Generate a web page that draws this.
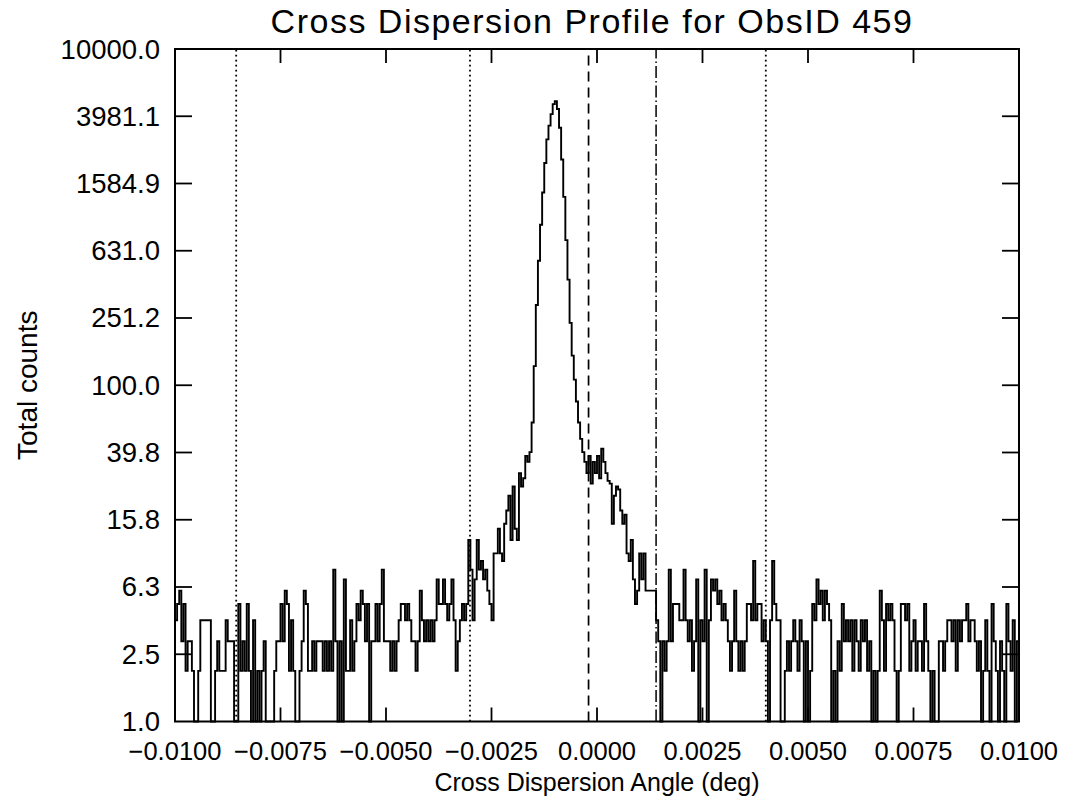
<!DOCTYPE html>
<html>
<head>
<meta charset="utf-8">
<script src="https://cdn.jsdelivr.net/npm/d3@7"></script>
<style>
  html, body { margin: 0; padding: 0; background: #fff; }
  svg text { font-family: "Liberation Sans", Arial, sans-serif; fill: #000; }
</style>
</head>
<body>
<div id="chart"></div>
<script>
// histogram bins: 400 bins of 0.00005 deg from -0.0100 to +0.0100
const binStart = -0.01;
const binWidth = 0.00005;

// counts (left background, core, right background)
const countsLeft = [
  4,5,6,3,5,2,3,3,2,1, 1,2,4,4,4,4,4,1,1,2, 3,2,2,2,4,3,3,3,1,1, 5,2,3,2,5,2,1,4,1,2,
  1,2,3,1,1,1,1,2,3,3, 5,3,6,5,2,4,2,1,1,2, 3,6,5,2,2,3,2,3,3,3, 2,3,2,3,2,8,3,1,3,1,
  7,2,2,4,2,3,5,4,6,5, 3,5,1,3,3,5,3,5,8,3, 3,3,2,3,2,3,4,5,5,4, 5,4,3,3,2,3,6,4,3,4,
  3,4,3,4,7,5,5,7,5,4, 5,7,4,2,3,4,5,4,5,12
];
const countsCore = [
  8,4,7,12,8,9,7,8,6,5, 4,10,10,14,10,9,15,18,22,12, 25,14,12,30,25,28,38,35,40,60,
  130,300,550,900,1400,2100,2900,3500,4100,4700, 4900,4400,3400,2200,1320,730,425,235,150,108,
  80,60,48,40,35,30,38,26,35,30, 38,28,42,35,30,27,26,15,22,25, 24,18,15,17,10,9,12,7,5,6,
  10,7,10,6,6,6,6,6,4,3, 1,3,2,3,8,3,5,5,5,4
];
const countsRight = [
  4,8,4,3,4,2,3,7,1,4, 3,8,1,4,7,6,7,5,6,4, 5,4,3,2,3,6,3,2,3,2, 3,5,5,4,9,4,5,5,3,4,
  3,1,4,9,5,4,4,1,1,2, 3,2,3,4,3,2,4,3,1,3, 1,2,5,4,7,5,6,4,6,5, 4,1,2,1,3,2,5,3,4,3,
  4,2,4,3,2,4,3,4,2,3, 1,2,1,2,6,4,2,5,4,5, 4,2,1,2,5,5,4,5,2,3, 4,2,3,3,2,5,3,2,1,2,
  1,1,3,3,2,3,4,4,3,4, 2,4,3,4,4,5,3,4,4,3, 2,3,1,2,4,2,1,5,3,2, 1,3,2,1,5,3,2,4,1,3
];

// marker lines (deg)
const dottedLines = [-0.00855, -0.00301, 0.0040];
const dashedLines = [-0.0002];
const dashDotLines = [0.0014];

const xTicks = [-0.01, -0.0075, -0.005, -0.0025, 0, 0.0025, 0.005, 0.0075, 0.01];
const yTicks = [1, 2.5119, 6.3096, 15.849, 39.811, 100, 251.19, 630.96, 1584.9, 3981.1, 10000];
const yTickLabels = ["1.0", "2.5", "6.3", "15.8", "39.8", "100.0", "251.2", "631.0", "1584.9", "3981.1", "10000.0"];

const width = 1072;
const height = 804;
const margin = { top: 49, right: 53, bottom: 82.5, left: 175 };

const svg = d3
  .select("#chart")
  .append("svg")
  .attr("width", width)
  .attr("height", height);

const x = d3
  .scaleLinear()
  .domain([-0.01, 0.01])
  .range([margin.left, width - margin.right]);

const y = d3
  .scaleLog()
  .domain([1, 10000])
  .range([height - margin.bottom, margin.top]);

const counts = countsLeft.concat(countsCore, countsRight);
const steps = counts.map((c, i) => ({ x: binStart + i * binWidth, c: c }));
steps.push({ x: binStart + counts.length * binWidth, c: counts[counts.length - 1] });

const line = d3
  .line()
  .curve(d3.curveStepAfter)
  .x((d) => x(d.x))
  .y((d) => y(Math.max(d.c, 1)));

// marker lines
const markers = svg.append("g").attr("stroke", "#000").attr("fill", "none");
const addMarkers = (vals, dash, w) => {
  markers
    .selectAll(null)
    .data(vals)
    .join("line")
    .attr("x1", (d) => x(d))
    .attr("x2", (d) => x(d))
    .attr("y1", y(1))
    .attr("y2", y(10000))
    .attr("stroke-width", w)
    .attr("stroke-dasharray", dash);
};
addMarkers(dottedLines, "1.8,3.2", 1.8);
addMarkers(dashedLines, "10,6", 1.7);
addMarkers(dashDotLines, "12,3,1.5,3", 1.5);

// histogram
svg
  .append("path")
  .datum(steps)
  .attr("fill", "none")
  .attr("stroke", "#000")
  .attr("stroke-width", 1.9)
  .attr("d", line);

// frame
svg
  .append("rect")
  .attr("x", x(-0.01))
  .attr("y", y(10000))
  .attr("width", x(0.01) - x(-0.01))
  .attr("height", y(1) - y(10000))
  .attr("fill", "none")
  .attr("stroke", "#000")
  .attr("stroke-width", 2);

// ticks (inward, on all four sides)
const tickG = svg.append("g").attr("stroke", "#000").attr("stroke-width", 1.8);
tickG
  .selectAll(null)
  .data(xTicks.slice(1, -1))
  .join("line")
  .attr("x1", (d) => x(d))
  .attr("x2", (d) => x(d))
  .attr("y1", y(1))
  .attr("y2", y(1) - 14);
tickG
  .selectAll(null)
  .data(xTicks.slice(1, -1))
  .join("line")
  .attr("x1", (d) => x(d))
  .attr("x2", (d) => x(d))
  .attr("y1", y(10000))
  .attr("y2", y(10000) + 14);
tickG
  .selectAll(null)
  .data(yTicks.slice(1, -1))
  .join("line")
  .attr("x1", x(-0.01))
  .attr("x2", x(-0.01) + 17)
  .attr("y1", (d) => y(d))
  .attr("y2", (d) => y(d));
tickG
  .selectAll(null)
  .data(yTicks.slice(1, -1))
  .join("line")
  .attr("x1", x(0.01))
  .attr("x2", x(0.01) - 17)
  .attr("y1", (d) => y(d))
  .attr("y2", (d) => y(d));

// tick labels
svg
  .append("g")
  .attr("text-anchor", "end")
  .style("font-size", "27.5px")
  .selectAll("text")
  .data(yTicks)
  .join("text")
  .attr("x", margin.left - 15)
  .attr("y", (d) => y(d) + 9.5)
  .text((d, i) => yTickLabels[i]);

const fmt = d3.format(".4f");
svg
  .append("g")
  .attr("text-anchor", "middle")
  .style("font-size", "25.5px")
  .selectAll("text")
  .data(xTicks)
  .join("text")
  .attr("x", (d) => x(d))
  .attr("y", 760)
  .text((d) => fmt(d));

// titles
svg
  .append("text")
  .attr("x", 592)
  .attr("y", 33)
  .attr("text-anchor", "middle")
  .style("font-size", "34px")
  .style("letter-spacing", "1.5px")
  .text("Cross Dispersion Profile for ObsID 459");

svg
  .append("text")
  .attr("x", 597)
  .attr("y", 791)
  .attr("text-anchor", "middle")
  .style("font-size", "25px")
  .text("Cross Dispersion Angle (deg)");

svg
  .append("text")
  .attr("transform", `translate(37,${(y(1) + y(10000)) / 2}) rotate(-90)`)
  .attr("text-anchor", "middle")
  .style("font-size", "28px")
  .text("Total counts");
</script>
</body>
</html>
